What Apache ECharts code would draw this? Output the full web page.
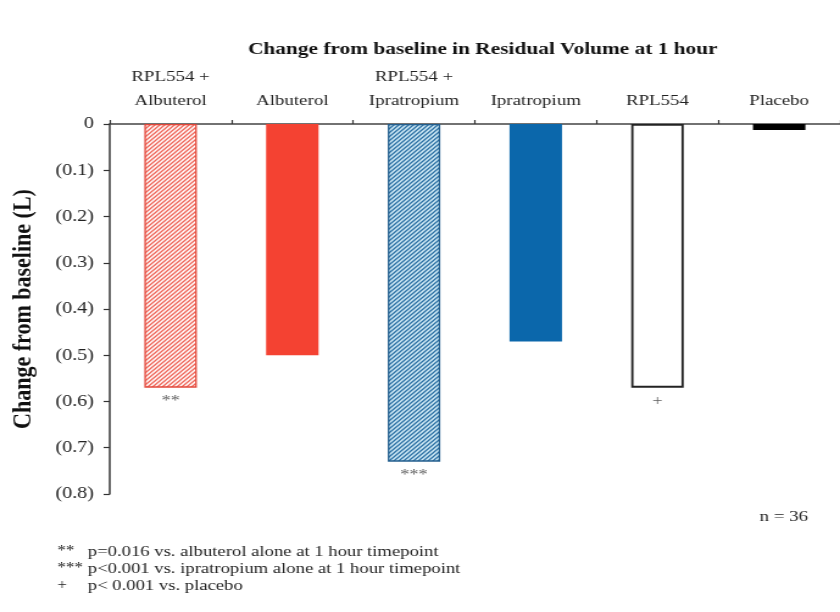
<!DOCTYPE html>
<html>
<head>
<meta charset="utf-8">
<script src="https://cdn.jsdelivr.net/npm/echarts@6/dist/echarts.min.js"></script>
<style>
html,body{margin:0;padding:0;background:#fff;overflow:hidden;width:840px;height:612px;}
#c{width:689px;height:612px;transform:scaleX(1.2192);transform-origin:0 0;}
</style>
</head>
<body>
<div id="c"></div>
<script>
const categories = ['RPL554 +\nAlbuterol', 'Albuterol', 'RPL554 +\nIpratropium', 'Ipratropium', 'RPL554', 'Placebo'];
const values = [-0.57, -0.50, -0.73, -0.47, -0.57, -0.013];
const significance = ['**', '', '***', '', '+', ''];
const yTicks = ['0', '(0.1)', '(0.2)', '(0.3)', '(0.4)', '(0.5)', '(0.6)', '(0.7)', '(0.8)'];
const footnoteMarks = ['**', '***', '+'];
const footnoteTexts = [
  'p=0.016 vs. albuterol alone at 1 hour timepoint',
  'p<0.001 vs. ipratropium alone at 1 hour timepoint',
  'p< 0.001 vs. placebo'
];

function hatch(bg, fg) {
  const s = 4;
  const cv = document.createElement('canvas');
  cv.width = s; cv.height = s;
  const ctx = cv.getContext('2d');
  ctx.fillStyle = bg; ctx.fillRect(0, 0, s, s);
  ctx.strokeStyle = fg; ctx.lineWidth = 1.3;
  ctx.beginPath();
  ctx.moveTo(-1, s + 1); ctx.lineTo(s + 1, -1);
  ctx.moveTo(-1, 1); ctx.lineTo(1, -1);
  ctx.moveTo(s - 1, s + 1); ctx.lineTo(s + 1, s - 1);
  ctx.stroke();
  return { image: cv, repeat: 'repeat' };
}

const styles = [
  { color: hatch('#ffffff', '#ef6457'), borderColor: '#e2473a', borderWidth: 1.3 },
  { color: '#f44232', borderColor: '#f44232', borderWidth: 0 },
  { color: hatch('#d3ecf7', '#2a6fa3'), borderColor: '#245f8e', borderWidth: 1.3 },
  { color: '#0b67ab', borderColor: '#0b67ab', borderWidth: 0 },
  { color: '#ffffff', borderColor: '#222222', borderWidth: 1.8 },
  { color: '#000000', borderColor: '#000000', borderWidth: 0 }
];

const serif = '"Liberation Serif", "DejaVu Serif", serif';
const chart = echarts.init(document.getElementById('c'), null, { renderer: 'canvas' });

const graphics = [];
footnoteMarks.forEach((m, i) => {
  graphics.push({ type: 'text', left: 47, top: 544 + i * 17,
    style: { text: m, font: '14px ' + serif, fill: '#222' } });
  graphics.push({ type: 'text', left: 72, top: 544 + i * 17,
    style: { text: footnoteTexts[i], font: '15.3px ' + serif, fill: '#222' } });
});
graphics.push({ type: 'text', left: 623, top: 509,
  style: { text: 'n = 36', font: '15.5px ' + serif, fill: '#222' } });

chart.setOption({
  animation: false,
  title: {
    text: 'Change from baseline in Residual Volume at 1 hour',
    left: 391, top: 35, textAlign: 'center',
    textStyle: { fontFamily: serif, fontSize: 17.5, fontWeight: 'bold', color: '#111' }
  },
  grid: { left: 90, right: 0, top: 124, bottom: 118 },
  xAxis: {
    type: 'category', position: 'top', data: categories,
    axisLine: { lineStyle: { color: '#444', width: 1.5 } },
    axisTick: { show: true, length: 4, lineStyle: { color: '#333', width: 1.2 } },
    axisLabel: { fontFamily: serif, fontSize: 15.5, color: '#222', margin: 11, lineHeight: 24 }
  },
  yAxis: {
    type: 'value', min: -0.8, max: 0, interval: 0.1,
    name: 'Change from baseline (L)', nameLocation: 'middle', nameGap: 60,
    nameTextStyle: { fontFamily: serif, fontSize: 22, fontWeight: 'bold', color: '#111' },
    axisLine: { show: true, lineStyle: { color: '#333', width: 1.5 } },
    axisTick: { show: true, length: 5, lineStyle: { color: '#333', width: 1.2 } },
    splitLine: { show: false },
    axisLabel: {
      fontFamily: serif, fontSize: 16.5, color: '#222', margin: 13,
      formatter: function (v) { return yTicks[Math.round(-v * 10)]; }
    }
  },
  series: [
    {
      type: 'bar', barWidth: 43,
      data: values.map((v, i) => ({ value: v, itemStyle: styles[i] })),
      z: 2
    },
    {
      type: 'scatter', symbolSize: 0, data: values,
      label: {
        show: true, position: 'bottom', distance: 6,
        fontFamily: serif, fontSize: 15, color: '#333',
        formatter: function (p) { return significance[p.dataIndex]; }
      },
      z: 3, silent: true
    }
  ],
  graphic: graphics
});
</script>
</body>
</html>
